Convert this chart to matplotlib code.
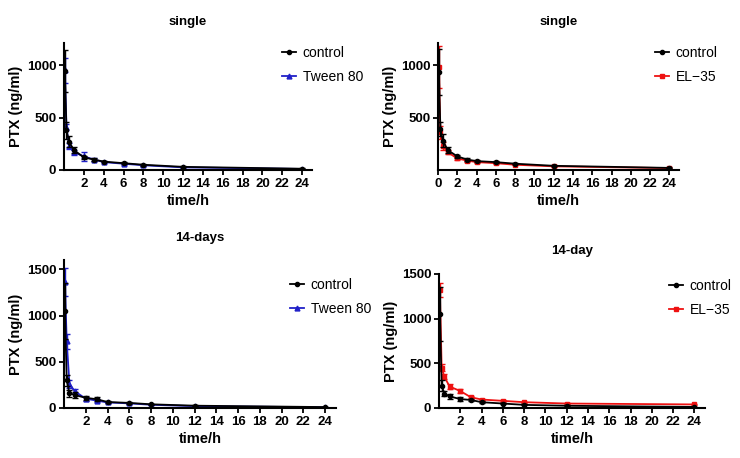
import matplotlib
matplotlib.use("Agg")
import matplotlib.pyplot as plt

plt.rcParams["font.family"] = ["Liberation Sans", "DejaVu Sans"]

# ---- data (PTX ng/ml vs time h) ----
t = [0.083, 0.25, 0.5, 1, 2, 3, 4, 6, 8, 12, 24]

# single dose, control vs Tween 80
s1_ctrl = [940, 380, 270, 190, 120, 100, 80, 65, 50, 30, 12]
s1_ctrl_err = [200, 80, 50, 30, 15, 10, 8, 8, 8, 6, 4]
s1_tw = [950, 410, 230, 170, 130, 100, 75, 60, 45, 25, 10]
s1_tw_err = [120, 30, 30, 25, 40, 10, 8, 8, 6, 5, 3]

# single dose, control vs EL-35
s2_ctrl = [930, 390, 280, 190, 130, 100, 85, 75, 60, 40, 20]
s2_ctrl_err = [220, 70, 60, 30, 12, 10, 8, 8, 6, 5, 4]
s2_el = [980, 360, 230, 170, 110, 90, 75, 65, 50, 35, 18]
s2_el_err = [200, 60, 40, 20, 12, 10, 8, 8, 6, 5, 4]

# 14-days, control vs Tween 80
d1_ctrl = [1050, 300, 160, 140, 110, 95, 65, 55, 40, 25, 10]
d1_ctrl_err = [300, 60, 40, 30, 25, 20, 10, 8, 6, 5, 3]
d1_tw = [1360, 720, 260, 180, 100, 80, 60, 50, 35, 20, 8]
d1_tw_err = [150, 80, 40, 30, 20, 15, 10, 8, 6, 5, 3]

# 14-day, control vs EL-35
d2_ctrl = [1050, 250, 160, 130, 100, 90, 65, 50, 35, 25, 12]
d2_ctrl_err = [300, 60, 30, 30, 25, 15, 8, 6, 5, 4, 3]
d2_el = [1320, 450, 350, 240, 190, 120, 95, 80, 65, 50, 40]
d2_el_err = [80, 40, 30, 30, 25, 12, 10, 8, 6, 5, 4]

xticks_from0 = list(range(0, 25, 2))
xticks_from2 = list(range(2, 25, 2))

fig = plt.figure(figsize=(7.4, 4.58), dpi=100)
W, H = 740, 458


def add_ax(l, r, b, top):
    return fig.add_axes([l / W, 1 - b / H, (r - l) / W, (b - top) / H])


def style(ax, title, ylim, yticks, xticks, title_y):
    ax.set_xlim(0, 25)
    ax.set_ylim(*ylim)
    ax.set_yticks(yticks)
    ax.set_xticks(xticks)
    ax.spines["top"].set_visible(False)
    ax.spines["right"].set_visible(False)
    for s in ("left", "bottom"):
        ax.spines[s].set_linewidth(1.5)
    ax.tick_params(width=1.3, length=3.5, labelsize=9.5, pad=2)
    for lab in ax.get_xticklabels() + ax.get_yticklabels():
        lab.set_fontweight("bold")
    ax.set_xlabel("time/h", fontsize=10.5, fontweight="bold", labelpad=3)
    ax.set_ylabel("PTX (ng/ml)", fontsize=10.5, fontweight="bold", labelpad=3)
    ax.set_title(title, fontsize=9.5, fontweight="bold", y=title_y, pad=0)


def plot_pair(ax, y1, e1, y2, e2, col2, mk2, lab2, leg_xy):
    c1 = ax.errorbar(t, y1, yerr=e1, color="black", marker="o", ms=3, lw=1.3,
                     capsize=2, elinewidth=1, zorder=3)
    c2 = ax.errorbar(t, y2, yerr=e2, color=col2, marker=mk2, ms=3.5, lw=1.3,
                     capsize=2, elinewidth=1, zorder=2)
    ax.legend([c1.lines[0], c2.lines[0]], ["control", lab2],
              loc="center left", bbox_to_anchor=(leg_xy[0] / W, 1 - leg_xy[1] / H),
              bbox_transform=fig.transFigure, frameon=False, fontsize=10,
              handlelength=1.0, handletextpad=0.5, borderpad=0, borderaxespad=0,
              labelspacing=0.75)


ax1 = add_ax(64, 312, 170, 43)
plot_pair(ax1, s1_ctrl, s1_ctrl_err, s1_tw, s1_tw_err, "#2020c8", "^", "Tween 80", (282, 65))
style(ax1, "single", (0, 1210), [0, 500, 1000], xticks_from2, 1.14)

ax2 = add_ax(438, 679, 170, 43)
plot_pair(ax2, s2_ctrl, s2_ctrl_err, s2_el, s2_el_err, "#ee1111", "s", "EL\u221235", (655, 65))
style(ax2, "single", (0, 1210), [500, 1000], xticks_from0, 1.14)

ax3 = add_ax(64, 336, 408, 260)
plot_pair(ax3, d1_ctrl, d1_ctrl_err, d1_tw, d1_tw_err, "#2020c8", "^", "Tween 80", (290, 297))
style(ax3, "14-days", (0, 1600), [0, 500, 1000, 1500], xticks_from2, 1.13)

ax4 = add_ax(439, 705, 408, 274)
plot_pair(ax4, d2_ctrl, d2_ctrl_err, d2_el, d2_el_err, "#ee1111", "s", "EL\u221235", (669, 298))
style(ax4, "14-day", (0, 1500), [0, 500, 1000, 1500], xticks_from2, 1.15)

fig.savefig("out.png", dpi=100)
